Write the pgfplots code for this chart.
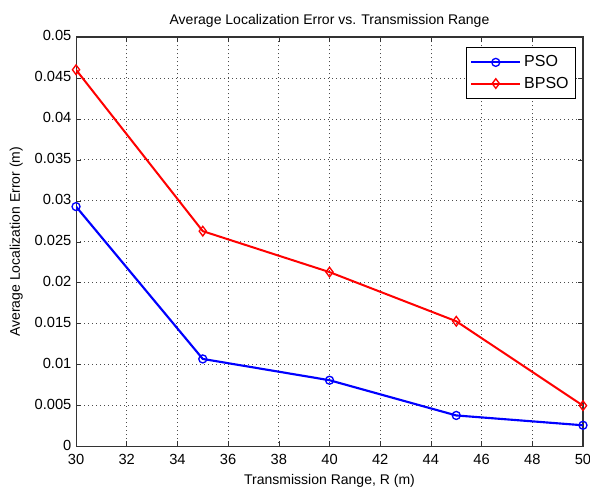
\documentclass[border=0pt]{standalone}
\usepackage{fontspec}
\setmainfont{Liberation Sans}
\usepackage{pgfplots}
\pgfplotsset{compat=1.18}
\usetikzlibrary{calc}

\begin{document}
\begin{tikzpicture}
\begin{axis}[
    name=ax,
    scale only axis,
    width=380pt, height=307pt,
    xmin=30, xmax=50, ymin=0, ymax=0.05,
    xtick={30,32,...,50},
    ytick={0,0.005,...,0.05},
    scaled y ticks=false,
    yticklabel style={/pgf/number format/fixed, /pgf/number format/precision=3, yshift=1pt},
    xticklabel style={yshift=-2pt},
    /pgf/number format/assume math mode=true,
    tick align=inside,
    major tick length=4pt,
    tick style={black!80, thin},
    axis line style={black!80, thick},
    grid=major,
    major grid style={black!70, line width=0.6pt, dash pattern=on 0.7pt off 2.3pt},
    font=\fontsize{10.5}{12}\selectfont,
    tick label style={font=\fontsize{11}{13}\selectfont},
    title={Average Localization Error vs. Transmission Range},
    title style={yshift=-2pt},
    xlabel={Transmission Range, R (m)},
    ylabel={Average Localization Error (m)},
    xlabel style={yshift=-1pt},
    ylabel style={yshift=2pt},
    legend style={at={(0.986,0.975)}, anchor=north east, draw=black, thick,
        font=\fontsize{12}{14}\selectfont, row sep=2pt, inner xsep=3pt, inner ysep=4pt},
    legend cell align=left,
    legend image code/.code={
        \draw[#1] (0cm,0cm) -- (1.3cm,0cm);
        \draw[#1] plot coordinates {(0.65cm,0cm)};
    },
]
\addplot[blue, line width=1.6pt, mark=o, mark size=3pt, mark options={line width=1pt}] coordinates {
    (30,0.0293)
    (35,0.0107)
    (40,0.0081)
    (45,0.0038)
    (50,0.0026)
};
\addplot[red, line width=1.5pt, mark=diamond, mark size=3.6pt, mark options={line width=1pt}] coordinates {
    (30,0.0460)
    (35,0.0263)
    (40,0.0213)
    (45,0.0153)
    (50,0.0050)
};
\legend{PSO,BPSO}
\end{axis}
\pgfresetboundingbox
\path ($(ax.south west)+(-57pt,-30.75pt)$) rectangle ($(ax.north east)+(5.25pt,27.75pt)$);
\end{tikzpicture}
\end{document}
